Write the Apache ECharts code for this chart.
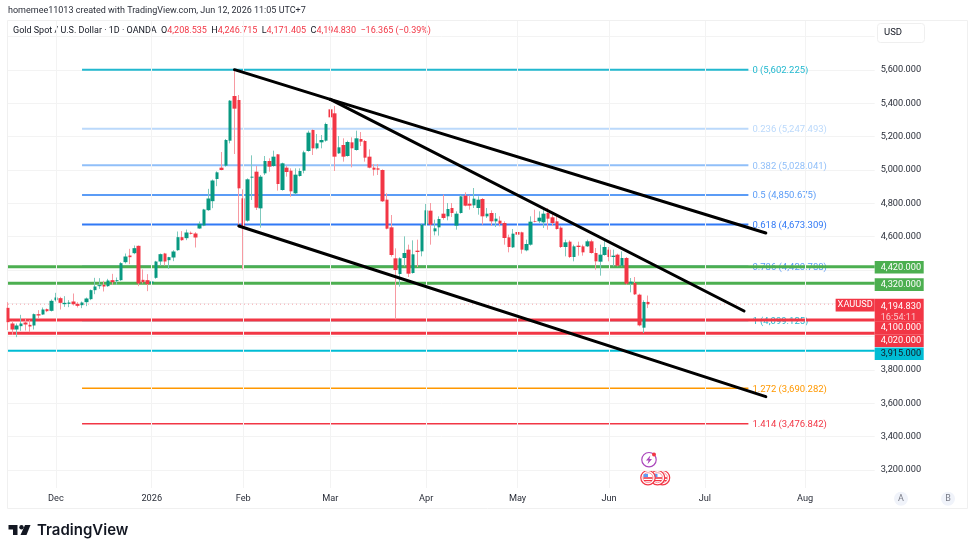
<!DOCTYPE html>
<html>
<head>
<meta charset="utf-8">
<title>XAUUSD daily</title>
<style>html,body{margin:0;padding:0;background:#fff}#chart{width:975px;height:553px}</style>
<script src="https://cdn.jsdelivr.net/npm/echarts@6/dist/echarts.min.js"></script>
</head>
<body>
<div id="chart"></div>
<script>
// Daily gold candles, 14 Nov 2025 to 12 Jun 2026
const opens = [4173,4079,4043,4063,4085,4071,4067,4135,4133,4165,4155,4219,4231,4195,4197,4211,4197,4189,4207,4225,
  4279,4303,4311,4303,4339,4333,4339,4447,4487,4501,4545,4341,4339,4319,4353,4451,4499,4459,4475,4519,
  4597,4591,4623,4619,4649,4667,4759,4813,4946,5014,5026,5176,5444,5420,4830,4696,4954,4990,4770,4980,
  5054,5024,5094,4880,5014,4996,4860,4964,4996,5114,5240,5130,5166,5176,5364,5340,5100,5150,5084,5166,
  5120,5186,5174,5080,5014,5010,5000,4822,4656,4470,4376,4472,4522,4382,4516,4512,4672,4756,4632,4656,
  4738,4722,4772,4666,4742,4846,4798,4788,4772,4826,4722,4742,4692,4696,4682,4596,4536,4628,4626,4518,
  4552,4692,4692,4686,4742,4716,4692,4654,4538,4570,4478,4546,4542,4542,4572,4502,4450,4490,4522,4478,
  4492,4426,4472,4318,4322,4252,4054,4208.535];
const closes = [4087,4043,4067,4079,4073,4061,4135,4127,4163,4153,4215,4235,4203,4203,4205,4195,4185,4205,4229,4279,
  4301,4309,4301,4337,4327,4339,4441,4481,4477,4531,4319,4327,4315,4331,4451,4495,4451,4477,4511,4597,
  4579,4625,4617,4595,4677,4763,4829,4937,4986,5000,5180,5416,5368,4890,4660,4944,4960,4774,4960,5054,
  5020,5080,4916,5040,4988,4872,4972,4994,5106,5224,5130,5160,5180,5276,5316,5080,5136,5080,5168,5130,
  5190,5170,5074,5014,5002,5002,4812,4648,4490,4400,4470,4502,4378,4494,4508,4672,4758,4672,4650,4706,
  4712,4766,4742,4738,4842,4786,4786,4828,4822,4722,4738,4692,4708,4678,4592,4538,4618,4612,4522,4556,
  4690,4688,4714,4738,4708,4682,4646,4538,4566,4478,4542,4538,4506,4572,4502,4452,4492,4538,4478,4486,
  4426,4472,4318,4330,4254,4068,4208,4194.83];
const lows = [4040,4010,3997,4035,4037,4027,4043,4107,4131,4147,4151,4211,4163,4179,4177,4187,4175,4171,4183,4219,
  4255,4287,4271,4299,4311,4311,4335,4439,4435,4495,4303,4319,4273,4307,4347,4427,4427,4407,4453,4515,
  4575,4579,4613,4535,4647,4663,4755,4771,4903,4998,5020,5160,5096,4660,4404,4690,4820,4760,4654,4970,
  4990,5020,4876,4876,4960,4840,4852,4960,4980,5110,5090,5124,5130,5170,5260,4994,5096,5050,5080,5016,
  5116,5144,5050,5010,4966,4970,4808,4644,4480,4104,4300,4422,4358,4378,4418,4482,4666,4552,4608,4606,
  4702,4698,4718,4642,4738,4782,4762,4772,4732,4672,4712,4666,4658,4662,4552,4506,4532,4552,4498,4512,
  4546,4686,4682,4652,4642,4666,4642,4532,4482,4472,4452,4486,4486,4538,4498,4402,4366,4486,4452,4422,
  4422,4422,4312,4266,4250,4062,4022,4171.405];
const highs = [4207,4095,4079,4131,4107,4099,4139,4159,4175,4169,4223,4263,4239,4243,4219,4259,4207,4211,4235,4283,
  4353,4351,4335,4347,4377,4355,4447,4499,4527,4547,4547,4403,4375,4403,4455,4499,4503,4479,4519,4631,
  4633,4643,4631,4627,4691,4767,4887,4943,4992,5108,5186,5420,5602,5450,4884,4950,5088,5024,4970,5084,
  5070,5116,5096,5044,5024,5010,5010,5010,5116,5236,5244,5216,5210,5284,5424,5384,5204,5190,5176,5196,
  5236,5228,5180,5124,5036,5036,5004,4860,4730,4530,4476,4602,4552,4578,4582,4678,4796,4802,4702,4722,
  4852,4802,4802,4752,4850,4866,4846,4892,4842,4832,4772,4758,4742,4722,4692,4612,4646,4658,4630,4582,
  4722,4762,4752,4762,4772,4746,4722,4662,4582,4578,4552,4570,4552,4582,4582,4532,4552,4582,4538,4522,
  4498,4512,4478,4352,4358,4258,4218,4246.715];

// Fibonacci retracement levels
const fibRatios = ['0','0.236','0.382','0.5','0.618','0.786','1','1.272','1.414'];
const fibPrices = [5602.225,5247.493,5028.041,4850.675,4673.309,4420.788,4099.125,3690.282,3476.842];
const fibColors = ['#22b8cf','#bbd9fb','#90bff9','#5b9cf6','#3179f5','#5b9cf6','#22b8cf','#ff9800','#f23645'];
const fibStart = 17, fibEnd = 170;

// Manually drawn support and resistance levels
const levelPrices = [4420,4320,4100,4020,3915];
const levelColors = ['#4caf50','#4caf50','#f23645','#f23645','#00bcd4'];
const levelTextColors = ['#fff','#fff','#fff','#fff','#131722'];
const levelTagShift = [0.6,1.2,7.8,7.3,2.9];

// Trendlines as [session index, price] anchor pairs
const trendStart = [[52,5602],[74,5424],[74,5424],[53,4664]];
const trendEnd = [[74,5424],[174,4622],[169,4154],[174,3640]];

const lastPrice = 4194.83;
const countdown = '16:54:11';

const yGridValues = [3200,3400,3600,3800,4000,4200,4400,4600,4800,5000,5200,5400,5600,5800];
const yTickLabels = [3200,3400,3600,3800,4600,4800,5000,5200,5400,5600];
const monthDates = ['2025-12-01','2026-01-02','2026-02-02','2026-03-02','2026-04-01','2026-05-01','2026-06-01','2026-07-01','2026-08-03'];
const monthLabels = ['Dec','2026','Feb','Mar','Apr','May','Jun','Jul','Aug'];

// Trading sessions: weekdays minus the market holidays of this period
const holidays = ['2025-12-25','2026-01-01','2026-04-03'];
const categories = [];
for (let t = Date.UTC(2025,10,14); categories.length < 200; t += 86400000) {
  const d = new Date(t), s = d.toISOString().slice(0,10), w = d.getUTCDay();
  if (w !== 0 && w !== 6 && !holidays.includes(s)) categories.push(s);
}
const lastIndex = categories.length - 1;

const FONT = 'Roboto, "Liberation Sans", sans-serif';
const SIZE = 9.2;
const fmt = v => v.toLocaleString('en-US',{minimumFractionDigits:3,maximumFractionDigits:3});
const candleData = opens.map((o,i)=>[o,closes[i],lows[i],highs[i]]);
const bodyData = opens.map((o,i)=>[o,closes[i],Math.min(o,closes[i]),Math.max(o,closes[i])]);

const series = [];

fibPrices.forEach((p,i)=>{
  series.push({type:'line',z:2,silent:true,showAllSymbol:true,symbol:'circle',symbolSize:0,
    lineStyle:{color:fibColors[i],width:i>6?1.5:2},
    data:[[fibStart,p],{value:[fibEnd,p],label:{show:true,position:'right',distance:4,offset:[0,1],
      formatter:fibRatios[i]+' ('+fmt(p)+')',color:fibColors[i],fontFamily:FONT,fontSize:9.5}}]});
});

series.push({type:'line',z:2,silent:true,symbol:'none',
  lineStyle:{color:'#f5a3aa',width:1,type:[1,3]},data:[[0,lastPrice],[lastIndex,lastPrice]]});

levelPrices.forEach((p,i)=>{
  series.push({type:'line',z:3,silent:true,symbol:'none',
    lineStyle:{color:levelColors[i],width:i===4?2:3},data:[[0,p],[lastIndex,p]]});
});

// Wicks (narrow, pale) first, solid bodies drawn over them
series.push({type:'candlestick',z:4,silent:true,barWidth:1,data:candleData,
  itemStyle:{color:'#7fc9bd',color0:'#f79aa2',borderColor:'#7fc9bd',borderColor0:'#f79aa2',borderWidth:1}});
series.push({type:'candlestick',z:4,silent:true,barWidth:4,data:bodyData,
  itemStyle:{color:'#089981',color0:'#f23645',borderColor:'#089981',borderColor0:'#f23645',borderWidth:0}});

trendStart.forEach((a,i)=>{
  series.push({type:'line',z:5,silent:true,symbol:'none',
    lineStyle:{color:'#000',width:3,cap:'round'},data:[a,trendEnd[i]]});
});

// Price tags in the right-hand scale
function tag(value,label){
  series.push({type:'scatter',z:8,silent:true,symbolSize:0,clip:false,itemStyle:{opacity:1},
    data:[[lastIndex,value]],label:Object.assign({show:true,position:'right',distance:0,
      fontFamily:FONT,fontSize:SIZE,padding:[3,4,0,6],width:39,height:9.7,lineHeight:10,align:'left'},label)});
}
levelPrices.forEach((p,i)=>tag(p,{formatter:fmt(p),color:levelTextColors[i],
  backgroundColor:levelColors[i],offset:[0,levelTagShift[i]]}));
tag(lastPrice,{formatter:'{p|'+fmt(lastPrice)+'}\n{t|'+countdown+'}',backgroundColor:'#f23645',height:20,offset:[0,6],
  rich:{p:{color:'#fff',fontFamily:FONT,fontSize:SIZE,lineHeight:10.5},t:{color:'rgba(255,255,255,.72)',fontFamily:FONT,fontSize:SIZE,lineHeight:10.5}}});
series.push({type:'scatter',z:8,silent:true,symbolSize:0,clip:false,itemStyle:{opacity:1},data:[[lastIndex,lastPrice]],
  label:{show:true,position:'left',distance:0,formatter:'XAUUSD',color:'#fff',backgroundColor:'#f23645',offset:[0,1],
    fontFamily:FONT,fontSize:SIZE,padding:[3,2,0,2],height:9.7,lineHeight:10}});

// Vertical month grid lines
const monthIdx = monthDates.map(d=>categories.indexOf(d));

const legendPrices = {o:'4,208.535',h:'4,246.715',l:'4,171.405',c:'4,194.830',d:'\u221216.365 (\u22120.39%)'};

function flag(cx,cy,z){
  return {type:'group',x:cx,y:cy,z:z,children:[
    {type:'circle',shape:{r:7.2},style:{fill:'#fff',stroke:'#f23645',lineWidth:1.2}},
    {type:'circle',shape:{r:5},style:{fill:'#fff',stroke:'#f99aa1',lineWidth:1}},
    {type:'rect',shape:{x:-4.5,y:-0.5,width:9,height:1.6},style:{fill:'#f23645'}},
    {type:'rect',shape:{x:-4,y:2.3,width:8,height:1.2},style:{fill:'#f23645'}},
    {type:'rect',shape:{x:-4.4,y:-3.8,width:4.4,height:3.2},style:{fill:'#5b9cf6'}}
  ]};
}

const graphic = [
  {type:'rect',z:0,silent:true,shape:{x:7.5,y:20.5,width:960,height:488},style:{fill:'none',stroke:'#f0f0f0',lineWidth:1}},
  {type:'text',x:8,y:6,style:{text:'homemee11013 created with TradingView.com, Jun 12, 2026 11:05 UTC+7',fill:'#2a2e39',font:'9px '+FONT}},
  {type:'text',x:13,y:26,style:{
    text:'{n|Gold Spot / U.S. Dollar \u00b7 1D \u00b7 OANDA}  {n|O}{r|'+legendPrices.o+'}  {n|H}{r|'+legendPrices.h+'}  {n|L}{r|'+legendPrices.l+'}  {n|C}{r|'+legendPrices.c+'}  {r|'+legendPrices.d+'}',
    font:'9px '+FONT,rich:{n:{fill:'#131722',fontFamily:FONT,fontSize:9},r:{fill:'#f23645',fontFamily:FONT,fontSize:9}}}},
  {type:'rect',z:6,shape:{x:877.5,y:23.5,width:47,height:19,r:3},style:{fill:'#fff',stroke:'#efefef',lineWidth:1}},
  {type:'text',z:7,x:884,y:28,style:{text:'USD',fill:'#131722',font:'9.5px '+FONT}},
  {type:'circle',z:6,shape:{cx:901,cy:498.7,r:7},style:{fill:'#f0f3fa'}},
  {type:'text',z:7,x:901,y:498.7,style:{text:'A',fill:'#787b86',font:'9px '+FONT,align:'center',verticalAlign:'middle'}},
  {type:'circle',z:6,shape:{cx:948,cy:498.7,r:7},style:{fill:'#f0f3fa'}},
  {type:'text',z:7,x:948,y:498.7,style:{text:'B',fill:'#787b86',font:'9px '+FONT,align:'center',verticalAlign:'middle'}},
  {type:'group',x:649,y:459.7,z:7,children:[
    {type:'circle',shape:{r:7.2},style:{fill:'#fff',stroke:'#ab47bc',lineWidth:1.2}},
    {type:'polygon',shape:{points:[[1.5,-4.5],[-3,0.8],[-0.4,0.8],[-1.5,4.5],[3,-0.8],[0.4,-0.8]]},style:{fill:'#ab47bc'}},
    {type:'circle',shape:{cx:5,cy:-5.3,r:2},style:{fill:'#f23645'}}
  ]},
  flag(662.5,477.7,7), flag(657.5,477.7,8), flag(648,477.7,9),
  {type:'group',x:8,y:525,children:[
    {type:'polygon',shape:{points:[[0.5,0],[9.5,0],[9.5,10],[5,10],[5,4.4],[0.5,4.4]]},style:{fill:'#131722'}},
    {type:'circle',shape:{cx:13.5,cy:2.2,r:2.2},style:{fill:'#131722'}},
    {type:'polygon',shape:{points:[[17,0],[22.5,0],[18.5,10],[12.5,10]]},style:{fill:'#131722'}}
  ]},
  {type:'text',x:37,y:523,style:{text:'TradingView',fill:'#131722',font:'600 15px Inter, '+FONT}}
];

const option = {
  animation:false,
  backgroundColor:'#fff',
  textStyle:{fontFamily:FONT},
  graphic:{elements:graphic},
  grid:{left:8,width:866.7,top:21,height:467,containLabel:false},
  xAxis:{type:'category',data:categories,boundaryGap:false,
    axisLine:{show:false},axisTick:{show:false},
    splitLine:{show:false},
    axisLabel:{interval:i=>monthIdx.includes(i),margin:6.5,hideOverlap:false,
      color:'#2a2e39',fontFamily:FONT,fontSize:SIZE,
      formatter:v=>{const k=monthDates.indexOf(v);return k<0?'':monthLabels[k];}}},
  yAxis:{type:'value',position:'right',min:3092,max:5894,
    axisLine:{show:false},
    axisTick:{show:false,customValues:yGridValues},
    splitLine:{show:true,lineStyle:{color:'#f3f3f3',width:1}},
    axisLabel:{customValues:yTickLabels,margin:6,color:'#2a2e39',fontFamily:FONT,fontSize:SIZE,align:'left',
      padding:[3,0,0,0],formatter:v=>fmt(v)}},
  series:series.concat([{type:'line',z:1,silent:true,symbol:'none',data:[],
    markLine:{silent:true,symbol:'none',label:{show:false},lineStyle:{color:'#f3f3f3',width:1,type:'solid'},
      data:monthIdx.map(i=>({xAxis:i}))}}])
};

echarts.init(document.getElementById('chart'),null,{renderer:'canvas'}).setOption(option);
</script>
</body>
</html>
